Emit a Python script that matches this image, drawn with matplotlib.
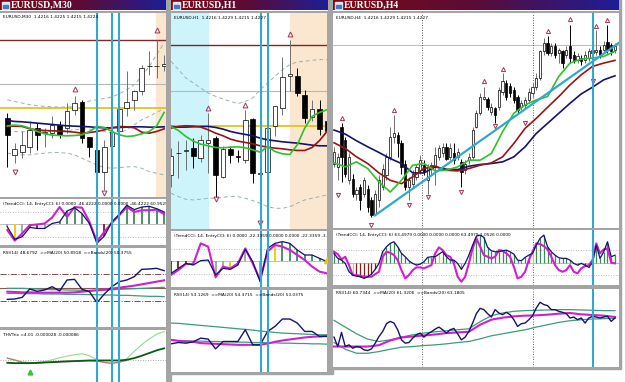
import numpy as np
import matplotlib.pyplot as plt
from matplotlib.colors import LinearSegmentedColormap
from matplotlib.patches import Rectangle

# ---------------- M30 window ----------------
m30_open = [245, 135, 145, 160, 215, 200, 200, 225, 215, 270, 293, 190, 150, 85, 162, 205, 275, 300, 325, 400, 400, 400]
m30_high = [260, 170, 205, 235, 230, 215, 250, 235, 290, 310, 300, 190, 150, 180, 220, 280, 385, 330, 405, 445, 480, 435]
m30_low = [100, 110, 125, 140, 150, 160, 185, 185, 200, 255, 170, 130, 80, 30, 150, 190, 250, 270, 315, 375, 365, 385]
m30_close = [195, 152, 165, 210, 195, 202, 225, 195, 265, 290, 185, 160, 85, 160, 202, 273, 293, 325, 395, 400, 401, 408]
m30_ma_navy = [238, 235, 234, 232, 230, 228, 226, 224, 222, 221, 220, 219, 217, 216, 216, 217, 218, 219, 219, 218, 218, 219]
m30_ma_red = [220, 221, 220, 213, 210, 208, 207, 206, 205, 203, 200, 202, 205, 210, 216, 220, 219, 216, 203, 200, 205, 213]
m30_ma_green = [222, 224, 222, 215, 205, 198, 194, 193, 192, 193, 195, 205, 220, 217, 205, 195, 190, 192, 198, 205, 222, 262]
m30_bb_upper = [300, 295, 290, 285, 282, 280, 279, 278, 278, 280, 290, 296, 300, 304, 308, 318, 330, 345, 370, 400, 435, 470]
m30_bb_mid = [205, 205, 204, 205, 206, 205, 206, 207, 208, 210, 212, 212, 210, 205, 200, 200, 210, 225, 240, 250, 262, 275]
m30_bb_lower = [140, 138, 135, 135, 138, 140, 142, 142, 140, 135, 125, 115, 105, 97, 95, 97, 99, 100, 95, 85, 80, 75]
m30_levels = [480, 348, 275]          # resistance, previous close, pivot
m30_up_idx, m30_up_val = [9, 20], [332, 508]
m30_dn_idx, m30_dn_val = [1, 13], [85, 22]
m30_trend_cci = [-19, -120, -99, -24, -32, -32, 8, 21, 109, 136, 88, 8, -152, -93, 21, 83, 155, 120, 141, 147, 128, 101]
m30_entry_cci = [-45, -131, -72, -5, 0, 8, 56, 141, 61, 141, 136, 21, -139, -59, 13, 75, 141, 101, 115, 115, 120, 83]
m30_hist_state = "sysrrssggggssrsggggggg"
m30_rsi = [32.5, 33, 35.5, 48, 44.5, 46.5, 51.5, 45, 61.5, 62.5, 47.5, 44, 27.5, 40.5, 51.5, 59, 61.5, 66.5, 77.5, 78, 79, 75.5]
m30_rsi_ma = [44, 43.5, 43, 43, 42.5, 42.5, 42.5, 42.5, 42.5, 43, 44, 45, 46, 47, 48.5, 50, 51.5, 53, 55, 57, 59, 61]
m30_rsi_upper = [49, 49, 49, 48.5, 48, 47.5, 47, 47, 46.5, 46.5, 46, 46, 46, 46.5, 47, 47.5, 48, 48.5, 49, 49.5, 50, 50.5]
m30_rsi_lower = [41.5, 41.5, 41, 41, 41, 40.5, 40.5, 40.5, 40, 40, 40, 39.5, 39.5, 39, 39, 38.5, 38.5, 38, 37.5, 37, 37, 36.5]
m30_trix_slow = [-9, -10, -10, -10, -9, -8, -7, -6, -5, -4, -3, -2, -2, -2, -2, -2, 0, 5, 12, 20, 28, 34]
m30_trix_fast = [5, 0, -6, -8, -8, -5, 0, 6, 11, 15, 18, 12, 0, -8, -12, -8, 3, 25, 45, 62, 76, 84]
m30_trix_sig = [5, -1, -8, -10, -10, -8, -6, -5, -4, -4, -3, -3, -4, -8, -10, -7, -2]
m30_cyan = [12, 14, 15]

# ---------------- H1 window ----------------
h1_open = [165, 229, 236, 245, 215, 260, 275, 160, 242, 222, 210, 333, 168, 175, 310, 365, 462, 462, 405, 338, 362, 325]
h1_high = [245, 265, 270, 275, 285, 350, 280, 250, 250, 240, 360, 335, 190, 310, 372, 518, 570, 485, 420, 390, 390, 340]
h1_low = [130, 155, 180, 185, 205, 170, 100, 155, 200, 205, 200, 140, 50, 170, 280, 345, 415, 400, 320, 325, 285, 280]
h1_close = [220, 231, 239, 220, 270, 270, 165, 242, 225, 218, 330, 170, 172, 305, 370, 458, 468, 410, 335, 362, 302, 295]
h1_ma_navy = [310, 308, 308, 309, 310, 310, 307, 302, 295, 290, 286, 282, 275, 270, 267, 264, 262, 260, 257, 254, 252, 252]
h1_ma_red = [305, 310, 312, 311, 308, 300, 290, 282, 272, 266, 262, 258, 252, 248, 245, 243, 240, 238, 238, 247, 268, 295]
h1_ma_green = [310, 298, 280, 266, 257, 252, 247, 246, 248, 249, 246, 240, 233, 250, 235, 228, 226, 255, 305, 340, 352, 360]
h1_bb_upper = [505, 480, 455, 440, 425, 410, 400, 392, 385, 378, 385, 395, 420, 440, 460, 480, 495, 503, 505, 508, 510, 510]
h1_bb_lower = [110, 100, 92, 90, 92, 95, 95, 98, 100, 100, 95, 88, 80, 70, 65, 65, 70, 80, 90, 95, 100, 105]
h1_levels = [555, 415, 312]
h1_up_idx, h1_up_val = [5, 10, 16], [365, 375, 588]
h1_dn_idx, h1_dn_val = [6, 12], [92, 21]
h1_trend_cci = [-99, -59, -19, -32, 3, 8, -112, -59, -67, -32, 93, -5, -165, 101, 141, 155, 141, 88, 48, 48, 21, -5]
h1_entry_cci = [-112, -72, -24, -24, 141, 115, -131, -45, -59, -19, 101, -19, -152, 75, 128, 115, 88, 48, 8, -45, -85, -99]
h1_hist_state = "rrrsssssyrssssygggggggy"[:22]
h1_signal_idx, h1_signal_val = [21], [10]
h1_rsi = [42, 44, 43, 45, 50.5, 49, 34.5, 45.5, 45.5, 45.5, 63, 40.5, 40.5, 60.5, 68, 79, 79, 73, 60.5, 60.5, 53, 53]
h1_rsi_ma = [48, 46.5, 45.5, 45, 43, 42.5, 42, 41.5, 41, 40.5, 40.5, 40.5, 40.5, 42.5, 45, 47, 48.5, 50, 51.5, 52.5, 53, 54]
h1_rsi_upper = [73, 72.5, 71.5, 70.5, 69.5, 68.5, 67.5, 66.5, 65.5, 64.5, 63.5, 62.5, 61, 60, 59, 58, 57.5, 57, 56.5, 56, 55.5, 55.5]
h1_rsi_lower = [47, 46.5, 46.5, 46, 46, 45.5, 45.5, 45, 45, 44.5, 44.5, 44, 44, 43.5, 43.5, 43, 43, 42.5, 42.5, 42, 42, 41.5]
h1_cyan = [12.06, 13.0]

# ---------------- H4 window ----------------
h4_open = [200, 190, 310, 270, 150, 155, 110, 130, 110, 125, 90, 50, 90, 130, 165, 220, 280, 285, 260, 200,
           130, 140, 160, 180, 195, 150, 185, 190, 220, 230, 250, 220, 230, 220, 205, 180, 210, 220, 310, 350,
           394, 392, 355, 365, 370, 415, 440, 432, 420, 400, 370, 375, 390, 410, 430, 455, 535, 560, 530, 550,
           530, 535, 525, 550, 525, 510, 515, 510, 515, 530, 532, 540, 540, 562, 555, 538]
h4_high = [250, 230, 320, 280, 230, 170, 130, 140, 160, 135, 100, 120, 165, 200, 230, 310, 345, 295, 270, 210,
           160, 180, 200, 225, 210, 200, 205, 250, 255, 260, 260, 260, 260, 245, 215, 210, 230, 310, 360, 410,
           430, 400, 380, 370, 430, 470, 450, 440, 430, 405, 390, 400, 425, 440, 470, 540, 575, 580, 560, 560,
           545, 540, 550, 615, 535, 530, 525, 535, 545, 550, 600, 550, 565, 615, 560, 560]
h4_low = [190, 150, 145, 160, 140, 100, 90, 60, 100, 55, 40, 45, 70, 120, 150, 210, 260, 220, 170, 120,
          90, 130, 150, 170, 165, 110, 170, 135, 210, 220, 210, 210, 200, 210, 130, 170, 200, 215, 305, 345,
          390, 360, 345, 320, 360, 405, 390, 400, 380, 350, 360, 365, 380, 400, 420, 450, 525, 525, 520, 515,
          500, 485, 515, 500, 500, 500, 495, 500, 505, 520, 525, 515, 530, 530, 525, 530]
h4_close = [235, 220, 220, 170, 220, 110, 120, 90, 150, 70, 45, 110, 150, 185, 220, 280, 290, 260, 190, 130,
            150, 170, 190, 210, 175, 190, 195, 225, 245, 250, 215, 245, 210, 235, 175, 200, 220, 300, 350, 400,
            400, 370, 370, 345, 420, 445, 400, 410, 390, 360, 380, 390, 415, 430, 455, 535, 560, 530, 550, 525,
            540, 500, 540, 515, 510, 520, 505, 525, 535, 540, 540, 525, 555, 540, 535, 552]
h4_ma_x = list(range(0, 76, 3))
h4_ma_navy = [300, 288, 268, 250, 233, 215, 200, 172, 172, 190, 183, 182, 192, 197, 200, 205, 220, 250, 290, 320, 350, 380, 408, 428, 450, 462]
h4_ma_red = [262, 245, 220, 200, 172, 150, 140, 160, 185, 192, 180, 178, 185, 195, 202, 220, 260, 305, 335, 368, 400, 435, 465, 490, 500, 508]
h4_ma_green = [202, 190, 205, 185, 145, 115, 150, 195, 200, 178, 180, 190, 210, 210, 230, 295, 350, 375, 390, 400, 460, 500, 512, 515, 520, 535]
h4_trend_x, h4_trend_y = [10.9, 76.0], [45, 560]
h4_level = 553
h4_up_idx = [2, 16, 40, 45, 57, 63, 70, 73]
h4_up_val = [335, 360, 445, 482, 595, 632, 612, 628]
h4_dn_idx = [1, 10, 20, 25, 34, 43, 51, 69]
h4_dn_val = [105, 15, 75, 100, 115, 312, 320, 445]
h4_trend_cci = [75, 35, 21, -5, -72, -99, -107, -112, -125, -112, -91, -53, -5, 88, 128, 155, 168, 128, 75, 48,
                16, -5, -19, -11, 8, 43, 48, 48, 69, 88, 48, 21, 21, -5, -53, -5, 61, 141, 213, 221,
                203, 123, 96, 88, 88, 96, 101, 88, 69, 21, 16, 43, 61, 75, 141, 195, 221, 128, 88, 61,
                40, 35, 35, 21, -5, -19, -5, -19, -37, 0, 141, 35, 88, 168, 48, 61]
h4_entry_cci = [88, 69, 27, 48, -19, -99, -99, -104, -112, -112, -112, -91, -72, 48, 88, 80, 61, 21, -59, -125,
                -99, -59, -37, -37, -45, -32, -19, 75, 123, 101, 61, 48, -5, -112, -152, -112, -5, 115, 195, 128,
                61, 48, 35, 48, 101, 96, 75, 48, -32, -125, -112, -72, 21, 88, 155, 149, 133, 107, 48, -19,
                -59, -72, -59, -19, -72, -85, -45, -27, -19, 21, 155, 75, 107, 115, 0, -5]
h4_hist_state = ("gggsyyrrrr" "rrrygggggg" "gyssggggyg" "gggsssyygg" "gggggggggg"
                 "gggygggggg" "ggggsrrrry" "gggggg")
h4_rsi = [34.5, 20.5, 41.5, 20.5, 23, 18, 20.5, 19.5, 15.5, 14.5, 17, 25.5, 35.5, 43, 54.5, 58, 55.5, 45.5, 30.5, 25.5,
          26.5, 33, 38, 40.5, 34.5, 39.5, 42.5, 46.5, 49.5, 45.5, 40.5, 45.5, 47.5, 39.5, 30.5, 34.5, 43, 55.5, 69.5, 77.5,
          75.5, 69.5, 64.5, 75.5, 70.5, 68, 71.5, 68, 60.5, 50.5, 54.5, 55.5, 60.5, 66.5, 78, 86.5, 83, 81.5, 75.5, 75.5,
          73, 71.5, 69.5, 63, 64.5, 60.5, 63, 55.5, 63, 65.5, 64.5, 63, 64.5, 65.5, 58, 63]
h4_rsi_ma = [20.5, 20.5, 20.5, 20.5, 22.5, 29.5, 34, 35.5, 37, 38.5, 40.5, 41.5, 42.5, 53, 60.5, 63.5, 65.5, 66.5, 67, 68, 69.5, 70.5, 68.5, 67.5, 66.5, 64.5]
h4_rsi_upper = [59.5, 49.5, 39.5, 31.5, 28, 30.5, 34.5, 38, 40.5, 42.5, 44, 45.5, 47, 57.5, 66.5, 70.5, 73, 74, 74.5, 75, 75.5, 75.5, 75, 74.5, 74, 74]
h4_rsi_lower = [26.5, 16.5, 10.5, 10.5, 13, 16.5, 19.5, 20.5, 22, 23, 24.5, 26.5, 28, 32, 36.5, 39.5, 42.5, 45.5, 49.5, 53, 56.5, 59, 60.5, 61.5, 62, 62.5]
h4_cyan = [69.2]
h4_dotted = [23.6, 53.2]

NAVY = '#14146e'
DRED = '#9a1414'
GREEN = '#2cc22c'
MAG = '#d21ed2'
TEAL = '#3c9c78'
CYAN = '#30a8d0'
ARROW = '#a0365a'
BAND = '#98b4a8'
HIST = {'g': '#3a8a5a', 'r': '#8b1a1a', 'y': '#f0c800', 's': '#a0a0a0'}

W, H = 625, 382
fig = plt.figure(figsize=(6.25, 3.82), dpi=100, facecolor='white')
title_cmap = LinearSegmentedColormap.from_list('tb', ['#7c0a14', '#5a0c38', '#1e1e96'])


def frame(x0, y0, x1, y1):
    fig.patches.append(Rectangle((x0 / W, 1 - y1 / H), (x1 - x0) / W, (y1 - y0) / H,
                                 transform=fig.transFigure, color='#a4a4a4', zorder=-5))


def box(x0, y0, x1, y1, xlim=None, ylim=None):
    ax = fig.add_axes([x0 / W, 1 - y1 / H, (x1 - x0) / W, (y1 - y0) / H])
    ax.set_facecolor('white')
    ax.set_xticks([])
    ax.set_yticks([])
    for s in ax.spines.values():
        s.set_visible(False)
    if xlim:
        ax.set_xlim(*xlim)
    if ylim:
        ax.set_ylim(*ylim)
    return ax


def label(ax, text):
    p = ax.get_position()
    ax.text(3 / (p.width * W), 1 - 5 / (p.height * H), text, transform=ax.transAxes,
            fontsize=3.05, family='DejaVu Sans', va='center', ha='left', color='black',
            zorder=10, clip_on=True)


def title_bar(x0, x1, text):
    ax = box(x0, 0, x1, 10.5, (0, 1), (0, 1))
    ax.imshow(np.linspace(0, 1, 256)[None, :], cmap=title_cmap, aspect='auto', extent=[0, 1, 0, 1])
    w = x1 - x0
    ax.add_patch(Rectangle((1.5 / w, 0.15), 7 / w, 0.7, color='#dde6f2'))
    ax.add_patch(Rectangle((2.5 / w, 0.25), 5 / w, 0.3, color='#4a78c0'))
    ax.text(11 / w, 0.48, text, color='white', fontweight='bold', fontsize=7,
            family=['Liberation Serif', 'DejaVu Serif'], va='center')


def candles(ax, o, hi, lo, c, width):
    o, hi, lo, c = map(np.asarray, (o, hi, lo, c))
    x = np.arange(len(o))
    bull = c >= o
    ax.vlines(x, lo, hi, colors=np.where(bull, '#707070', 'black'), linewidth=0.7, zorder=2)
    ax.bar(x, np.maximum(np.abs(c - o), 2), bottom=np.minimum(o, c), width=width,
           color=np.where(bull, 'white', 'black'), edgecolor='black', linewidth=0.5, zorder=2.5)


def fractals(ax, ui, uv, di, dv, ms=3.5):
    ax.plot(ui, uv, ls='none', marker='^', ms=ms, mfc='none', mec=ARROW, mew=0.7, zorder=4)
    ax.plot(di, dv, ls='none', marker='v', ms=ms, mfc='none', mec=ARROW, mew=0.7, zorder=4)


def cci_panel(ax, trend, entry, state, lw_bar):
    x = np.arange(len(trend))
    ax.axhline(0, color='#b4b4b4', lw=0.6, zorder=1)
    for lv in (100, -100):
        ax.axhline(lv, color='#a8a8a8', lw=0.6, ls=(0, (1, 2)), zorder=1)
    ax.vlines(x, 0, trend, colors=[HIST[s] for s in state], linewidth=lw_bar, zorder=2)
    ax.plot(x, entry, color=MAG, lw=1.5, zorder=3)
    ax.plot(x, trend, color=NAVY, lw=0.9, zorder=3)


# window frames
frame(0, 0, 171, 382)
frame(168, 0, 333, 374)
frame(329, 0, 621, 369)

# ===== M30 =====
xl1 = (-0.98, 21.25)
title_bar(0, 166, 'EURUSD,M30')
a1 = box(0, 12.5, 166, 197, xl1, (9, 561))
a1.axvspan(19.95, 21.3, color='#fbe6cf', zorder=0)
for lv, col, lw in zip(m30_levels, ['#7a2a2a', '#b8b8b8', '#e6c21e'], [1.0, 0.8, 1.3]):
    a1.axhline(lv, color=col, lw=lw, zorder=1)
x1 = np.arange(len(m30_open))
for band in (m30_bb_upper, m30_bb_mid, m30_bb_lower):
    a1.plot(x1, band, color=BAND, lw=0.7, ls=(0, (4, 3)), zorder=1.5)
candles(a1, m30_open, m30_high, m30_low, m30_close, 0.62)
a1.plot(x1, m30_ma_navy, color=NAVY, lw=1.2, zorder=3)
a1.plot(x1, m30_ma_red, color=DRED, lw=1.2, zorder=3)
a1.plot(x1, m30_ma_green, color=GREEN, lw=1.2, zorder=3)
fractals(a1, m30_up_idx, m30_up_val, m30_dn_idx, m30_dn_val)
label(a1, 'EURUSD,M30  1.4216 1.4225 1.4215 1.4224')

b1 = box(0, 199.5, 166, 245, xl1, (-166, 202))
cci_panel(b1, m30_trend_cci, m30_entry_cci, m30_hist_state, 1.3)
label(b1, '(TrendCCI: 14, EntryCCI: 6) 0.0000 -46.4222 0.0000 0.0000 -46.4222 60.9529 0.000')

c1 = box(0, 248, 166, 327, xl1, (-9, 109.5))
c1.axhline(50, color='#8a5a4a', lw=0.8)
for lv in (70, 30):
    c1.axhline(lv, color='#8a4a4a', lw=0.7, ls='-.')
c1.plot(x1, m30_rsi_upper, color=TEAL, lw=0.9)
c1.plot(x1, m30_rsi_lower, color=TEAL, lw=0.9)
c1.plot(x1, m30_rsi_ma, color=MAG, lw=1.5)
c1.plot(x1, m30_rsi, color=NAVY, lw=1.0)
label(c1, 'RSI(14) 48.6792  =>MA(20) 50.8918  =>Bands(20) 50.3755')

d1 = box(0, 329.5, 166, 382, xl1, (-66, 90))
d1.axhline(0, color='#909090', lw=0.6, ls=(0, (1, 2)))
d1.plot(x1, m30_trix_fast, color='#8fdc8f', lw=0.8)
d1.plot(np.arange(len(m30_trix_sig)), m30_trix_sig, color='#c0707a', lw=0.8)
d1.plot(x1, m30_trix_slow, color='#0c5a14', lw=1.3)
d1.plot([3], [-35], ls='none', marker='^', ms=3.5, color='#3cc03c')
label(d1, 'THVTrix =4.01 -0.000028 -0.000086')
for ax in (a1, b1, c1, d1):
    for v in m30_cyan:
        ax.axvline(v, color=CYAN, lw=1.5, zorder=5)

# ===== H1 =====
xl2 = (0, 21.0)
title_bar(171, 328, 'EURUSD,H1')
a2 = box(171, 12.5, 327, 229, xl2, (3, 651))
a2.axvspan(-0.5, 5.02, color='#cdf3fb', zorder=0)
a2.axvspan(16.0, 21.5, color='#fbe6cf', zorder=0)
for lv, col, lw in zip(h1_levels, ['#7a2a2a', '#b8b8b8', '#e6c21e'], [1.0, 0.8, 1.3]):
    a2.axhline(lv, color=col, lw=lw, zorder=1)
x2 = np.arange(len(h1_open))
for band in (h1_bb_upper, h1_bb_lower):
    a2.plot(x2, band, color=BAND, lw=0.7, ls=(0, (4, 3)), zorder=1.5)
candles(a2, h1_open, h1_high, h1_low, h1_close, 0.62)
a2.plot(x2, h1_ma_navy, color=NAVY, lw=1.2, zorder=3)
a2.plot(x2, h1_ma_red, color=DRED, lw=1.2, zorder=3)
a2.plot(x2, h1_ma_green, color=GREEN, lw=1.2, zorder=3)
fractals(a2, h1_up_idx, h1_up_val, h1_dn_idx, h1_dn_val)
label(a2, 'EURUSD,H1  1.4216 1.4229 1.4215 1.4227')

b2 = box(171, 231, 327, 287, xl2, (-208, 240))
cci_panel(b2, h1_trend_cci, h1_entry_cci, h1_hist_state, 1.3)
b2.plot(h1_signal_idx, h1_signal_val, ls='none', marker='^', ms=5, color='#f0c800', zorder=4)
label(b2, '(TrendCCI: 14, EntryCCI: 6) 0.0000 -22.3359 0.0000 0.0000 -22.3359 -3.8647')

c2 = box(171, 289.5, 327, 372, xl2, (0, 123))
c2.plot(x2, h1_rsi_upper, color=TEAL, lw=0.9)
c2.plot(x2, h1_rsi_lower, color=TEAL, lw=0.9)
c2.plot(x2, h1_rsi_ma, color=MAG, lw=1.5)
c2.plot(x2, h1_rsi, color=NAVY, lw=1.0)
label(c2, 'RSI(14) 53.1269  =>MA(20) 54.3715  =>Bands(20) 53.0375')
for ax in (a2, b2, c2):
    for v in h1_cyan:
        ax.axvline(v, color=CYAN, lw=1.5, zorder=5)

# ===== H4 =====
xl3 = (-0.27, 76.07)
title_bar(333, 619, 'EURUSD,H4')
a3 = box(333, 12.5, 619, 227.5, xl3, (9, 651))
a3.axhline(h4_level, color='#c0c0c0', lw=0.8, zorder=1)
candles(a3, h4_open, h4_high, h4_low, h4_close, 0.6)
a3.plot(h4_ma_x, h4_ma_navy, color=NAVY, lw=1.2, zorder=3)
a3.plot(h4_ma_x, h4_ma_red, color=DRED, lw=1.2, zorder=3)
a3.plot(h4_ma_x, h4_ma_green, color=GREEN, lw=1.2, zorder=3)
a3.plot(h4_trend_x, h4_trend_y, color=CYAN, lw=1.6, zorder=3.5)
fractals(a3, h4_up_idx, h4_up_val, h4_dn_idx, h4_dn_val, ms=3)
label(a3, 'EURUSD,H4  1.4216 1.4229 1.4215 1.4227')

b3 = box(333, 230, 619, 285, xl3, (-178, 262))
cci_panel(b3, h4_trend_cci, h4_entry_cci, h4_hist_state, 0.9)
label(b3, '(TrendCCI: 14, EntryCCI: 6) 63.4979 0.0000 0.0000 0.0000 63.4979 1.0526 0.0000')

c3 = box(333, 288.5, 619, 367, xl3, (-10, 107))
x3 = np.arange(len(h4_rsi))
c3.plot(h4_ma_x, h4_rsi_upper, color=TEAL, lw=0.9)
c3.plot(h4_ma_x, h4_rsi_lower, color=TEAL, lw=0.9)
c3.plot(h4_ma_x, h4_rsi_ma, color=MAG, lw=1.5)
c3.plot(x3, h4_rsi, color=NAVY, lw=1.0)
label(c3, 'RSI(14) 60.7344  =>MA(20) 61.3206  =>Bands(20) 63.1805')
for ax in (a3, b3, c3):
    for v in h4_dotted:
        ax.axvline(v, color='#303030', lw=0.6, ls=(0, (1, 2)), zorder=1)
    for v in h4_cyan:
        ax.axvline(v, color=CYAN, lw=1.5, zorder=5)

fig.savefig('out.png', dpi=100, facecolor='white')
